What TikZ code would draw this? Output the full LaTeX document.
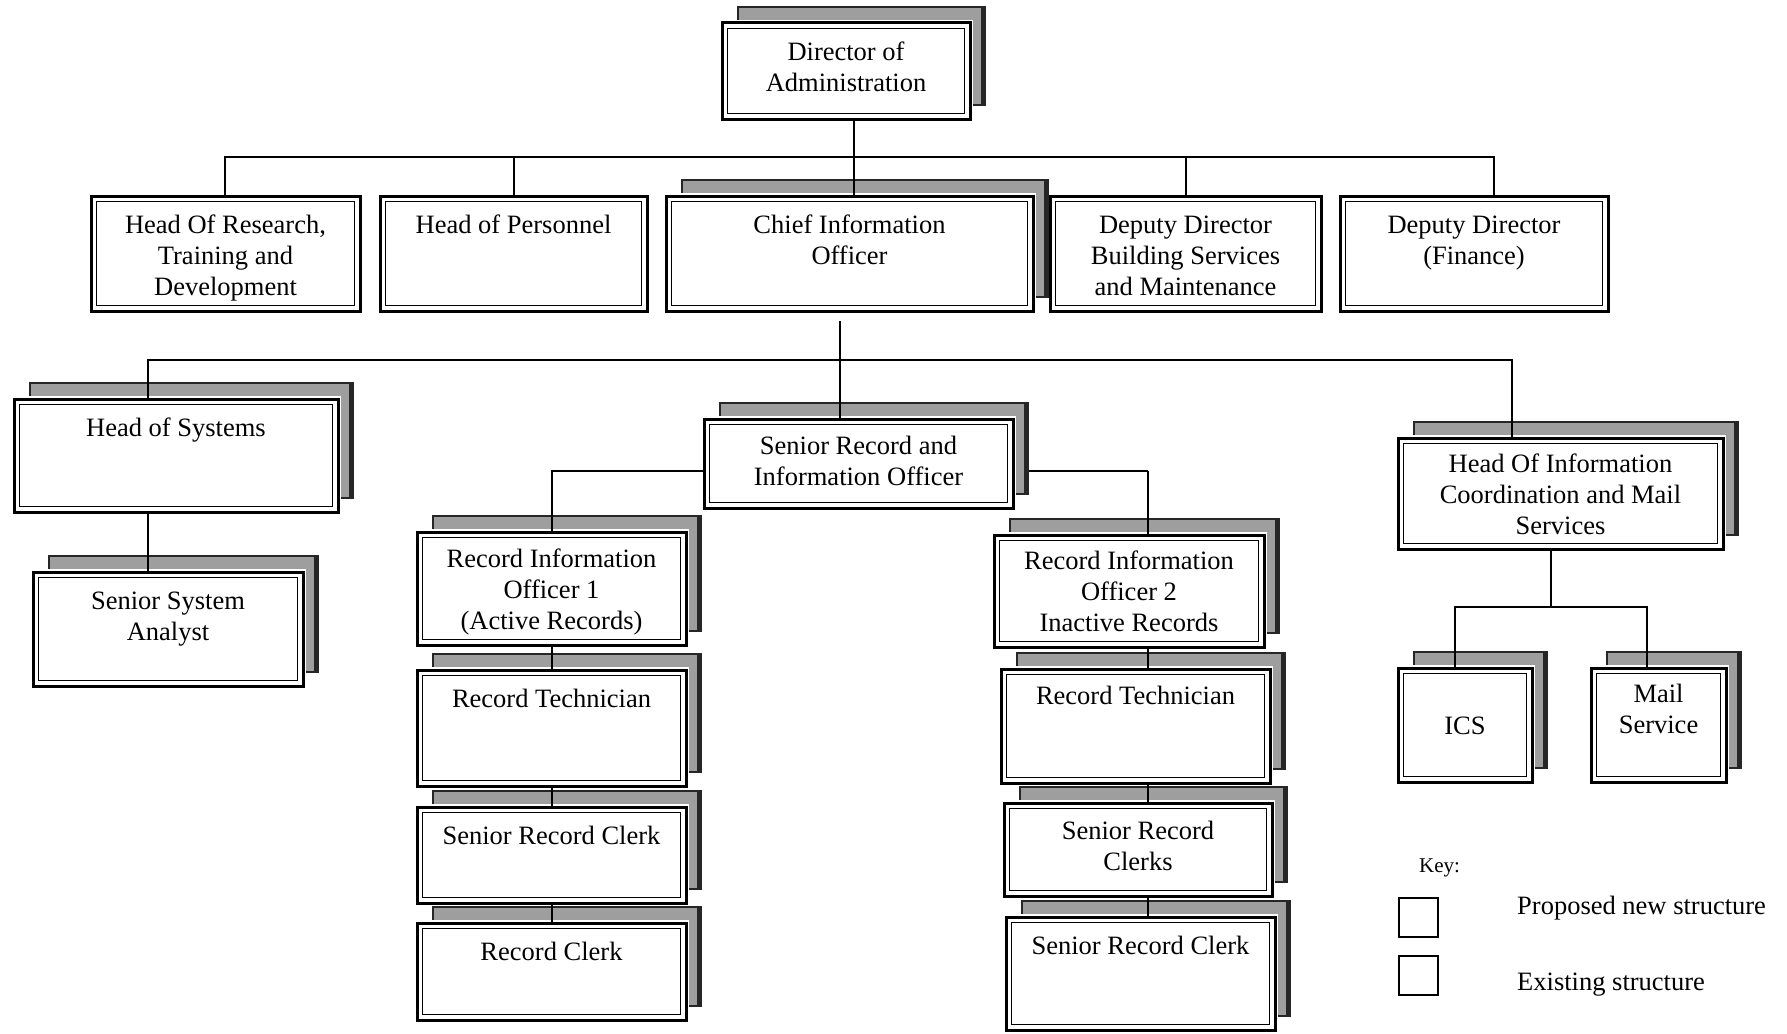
\documentclass[tikz,border=0pt]{standalone}
\usepackage{fontspec}
\setmainfont{Liberation Serif}
\pgfdeclarelayer{bglayer}
\pgfdeclarelayer{lowconn}
\pgfdeclarelayer{shadowlayer}
\pgfdeclarelayer{connlayer}
\pgfsetlayers{bglayer,lowconn,shadowlayer,connlayer,main}
\tikzset{
  mainbox/.style={draw, line width=3pt, fill=white, rectangle, anchor=north west, inner sep=0pt, outer sep=0pt},
  innerline/.style={line width=1.4pt},
  boxtext/.style={font=\fontsize{26.5}{31}\selectfont, align=center, anchor=north, inner sep=0pt},
  conn/.style={line width=2pt},
  thinconn/.style={line width=1.5pt},
  shadowdark/.style={fill=black!85},
  shadowlight/.style={fill=black!38},
  keybox/.style={draw, line width=2.5pt, rectangle, anchor=north west, inner sep=0pt, outer sep=0pt, minimum width=39pt, minimum height=39pt},
  keytext/.style={font=\fontsize{26.5}{31}\selectfont, anchor=base west, inner sep=0pt},
  keyhead/.style={font=\fontsize{21}{25}\selectfont, anchor=base west, inner sep=0pt},
}
\newcommand\orgbox[7]{%
  \pgfmathsetmacro\obw{#4-#2}%
  \pgfmathsetmacro\obh{#5-#3}%
  \node[mainbox, minimum width=\obw pt, minimum height=\obh pt] (#1) at (#2,#3) {};
  \draw[innerline] ([shift={(5.5,5.5)}]#1.north west) rectangle ([shift={(-5.5,-5.5)}]#1.south east);
  \node[boxtext] (#1-t) at ({(#2+#4)/2},{#3+#7}) {\strut #6};
}
\newcommand\dropshade[1]{%
  \begin{pgfonlayer}{shadowlayer}
    \fill[shadowdark] ([shift={(15,-17)}]#1.north west) rectangle ([shift={(16,-13)}]#1.south east);
    \fill[shadowlight] ([shift={(17,-15)}]#1.north west) rectangle ([shift={(11,-15)}]#1.south east);
    \fill[white] ([shift={(-3,-3)}]#1.north west) rectangle ([shift={(3,3)}]#1.south east);
  \end{pgfonlayer}}
\begin{document}
\begin{tikzpicture}[x=1pt,y=-1pt]
\begin{pgfonlayer}{bglayer}
\fill[white] (0,0) rectangle (1787,1033);
\end{pgfonlayer}
\useasboundingbox (0,0) rectangle (1787,1033);

% top
\orgbox{dir}{722}{23}{970}{119}{Director of\\ Administration}{16}\dropshade{dir}

% first level
\orgbox{hor}{91}{196}{360}{311}{Head Of Research,\\ Training and\\ Development}{16}
\orgbox{hop}{380}{196}{647}{311}{Head of Personnel}{16}
\orgbox{cio}{666}{196}{1033}{311}{Chief Information\\ Officer}{16}\dropshade{cio}
\orgbox{ddb}{1050}{196}{1321}{311}{Deputy Director\\ Building Services\\ and Maintenance}{16}
\orgbox{ddf}{1340}{196}{1608}{311}{Deputy Director\\ (Finance)}{16}

% second level
\orgbox{hos}{14}{399}{338}{512}{Head of Systems}{16}\dropshade{hos}
\orgbox{ssa}{33}{572}{303}{686}{Senior System\\ Analyst}{16}\dropshade{ssa}
\orgbox{srio}{704}{419}{1013}{508}{Senior Record and\\ Information Officer}{14}\dropshade{srio}
\orgbox{hoi}{1398}{438}{1723}{549}{Head Of Information\\ Coordination and Mail\\ Services}{13}\dropshade{hoi}

% left records column
\orgbox{rio1}{417}{532}{686}{645}{Record Information\\ Officer 1\\ (Active Records)}{14}\dropshade{rio1}
\orgbox{rt1}{417}{670}{686}{786}{Record Technician}{16}\dropshade{rt1}
\orgbox{src1}{417}{807}{686}{903}{Senior Record Clerk}{16}\dropshade{src1}
\orgbox{rc1}{417}{923}{686}{1020}{Record Clerk}{16}\dropshade{rc1}

% right records column
\orgbox{rio2}{994}{535}{1264}{647}{Record Information\\ Officer 2\\ Inactive Records}{13}\dropshade{rio2}
\orgbox{rt2}{1001}{669}{1270}{783}{Record Technician}{14}\dropshade{rt2}
\orgbox{srcs}{1004}{803}{1272}{896}{Senior Record\\ Clerks}{15}\dropshade{srcs}
\orgbox{src2}{1006}{917}{1275}{1030}{Senior Record Clerk}{16}\dropshade{src2}

% ICS / Mail
\orgbox{ics}{1398}{668}{1532}{782}{ICS}{45}\dropshade{ics}
\orgbox{mail}{1591}{668}{1726}{782}{Mail\\ Service}{13}\dropshade{mail}

% key
\node[keyhead] (keylabel) at (1419,872) {Key:};
\node[keybox] (k1) at (1399,898) {};
\node[keybox] (k2) at (1399,956) {};
\node[keytext] (k1t) at (1517,914) {Proposed new structure};
\node[keytext] (k2t) at (1517,990) {Existing structure};

% connectors
\begin{pgfonlayer}{connlayer}
\coordinate (b1) at (854,157);
\coordinate (b1L) at (225,157);
\coordinate (b1R) at (1494,157);
\draw[conn] (dir.south -| b1) -- (cio.north -| b1);
\draw[conn] (hor.north -| b1L) -- (b1L) -- (b1R) -- (ddf.north -| b1R);
\draw[conn] (hop.north) -- (hop.north |- b1);
\draw[conn] (ddb.north) -- (ddb.north |- b1);

\coordinate (b2top) at (840,321);
\coordinate (b2L) at (148,360);
\coordinate (b2R) at (1512,360);
\draw[conn] (b2top) -- (srio.north -| b2top);
\draw[conn] (hos.north -| b2L) -- (b2L) -- (b2R) -- (hoi.north -| b2R);
\draw[conn] (hos.south -| b2L) -- (ssa.north -| b2L);

\coordinate (b3L) at (552,471);
\coordinate (b3R) at (1148,471);
\draw[conn] (srio.west |- b3L) -- (b3L) -- (rio1.north -| b3L);
\draw[conn] (b3R) -- (rio2.north -| b3R);
\draw[thinconn] (rio1.south -| b3L) -- (rt1.north -| b3L);
\draw[thinconn] (rt1.south -| b3L) -- (src1.north -| b3L);
\draw[thinconn] (src1.south -| b3L) -- (rc1.north -| b3L);
\draw[thinconn] (rio2.south -| b3R) -- (rt2.north -| b3R);
\draw[thinconn] (rt2.south -| b3R) -- (srcs.north -| b3R);
\draw[thinconn] (srcs.south -| b3R) -- (src2.north -| b3R);

\coordinate (b4) at (1551,607);
\coordinate (b4L) at (1455,607);
\coordinate (b4R) at (1647,607);
\draw[conn] (hoi.south -| b4) -- (b4);
\draw[conn] (ics.north -| b4L) -- (b4L) -- (b4R) -- (mail.north -| b4R);
\end{pgfonlayer}
\begin{pgfonlayer}{lowconn}
\draw[conn] (srio.east |- b3R) -- (b3R);
\end{pgfonlayer}
\end{tikzpicture}
\end{document}
